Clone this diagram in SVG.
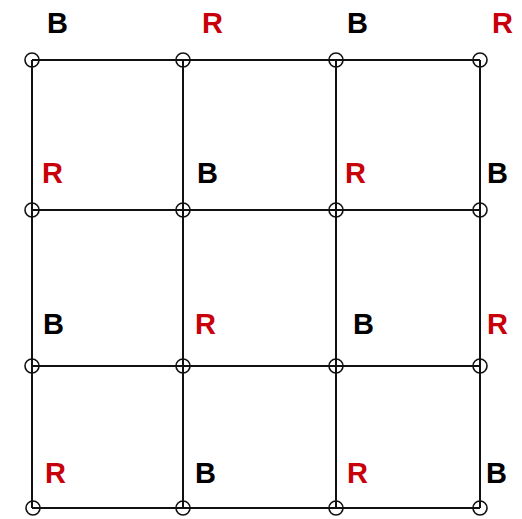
<svg xmlns="http://www.w3.org/2000/svg" width="522" height="519" viewBox="0 0 522 519">
<style>
.e{stroke:#111;stroke-width:2;fill:none}
.n{fill:none;stroke:#111;stroke-width:1.6}
.t{font-family:"Liberation Sans",Arial,sans-serif;font-weight:bold;font-size:29px}
.b{fill:#000}
.r{fill:#c8000a}
</style>
<rect width="522" height="519" fill="#fff"/>
<g id="connectors">
<line class="e" x1="32" y1="60" x2="480" y2="60"/>
<line class="e" x1="32" y1="210" x2="480" y2="210"/>
<line class="e" x1="32" y1="366" x2="480" y2="366"/>
<line class="e" x1="32" y1="508" x2="480" y2="508"/>
<line class="e" x1="32" y1="60" x2="32" y2="508"/>
<line class="e" x1="183" y1="60" x2="183" y2="508"/>
<line class="e" x1="336" y1="60" x2="336" y2="508"/>
<line class="e" x1="480" y1="60" x2="480" y2="508"/>
</g>
<g id="n00"><circle class="n" cx="32" cy="60" r="7"/><text class="t b" x="47" y="33">B</text></g>
<g id="n01"><circle class="n" cx="183" cy="60" r="7"/><text class="t r" x="202" y="33">R</text></g>
<g id="n02"><circle class="n" cx="336" cy="60" r="7"/><text class="t b" x="347" y="33">B</text></g>
<g id="n03"><circle class="n" cx="480" cy="60" r="7"/><text class="t r" x="492" y="33">R</text></g>
<g id="n10"><circle class="n" cx="32" cy="210" r="7"/><text class="t r" x="42" y="183">R</text></g>
<g id="n11"><circle class="n" cx="183" cy="210" r="7"/><text class="t b" x="197" y="183">B</text></g>
<g id="n12"><circle class="n" cx="336" cy="210" r="7"/><text class="t r" x="345" y="183">R</text></g>
<g id="n13"><circle class="n" cx="480" cy="210" r="7"/><text class="t b" x="487" y="183">B</text></g>
<g id="n20"><circle class="n" cx="32" cy="366" r="7"/><text class="t b" x="43" y="334">B</text></g>
<g id="n21"><circle class="n" cx="183" cy="366" r="7"/><text class="t r" x="195" y="334">R</text></g>
<g id="n22"><circle class="n" cx="336" cy="366" r="7"/><text class="t b" x="353" y="334">B</text></g>
<g id="n23"><circle class="n" cx="480" cy="366" r="7"/><text class="t r" x="487" y="334">R</text></g>
<g id="n30"><circle class="n" cx="33" cy="508" r="7"/><text class="t r" x="45" y="483">R</text></g>
<g id="n31"><circle class="n" cx="183" cy="508" r="7"/><text class="t b" x="195" y="483">B</text></g>
<g id="n32"><circle class="n" cx="336" cy="508" r="7"/><text class="t r" x="347" y="483">R</text></g>
<g id="n33"><circle class="n" cx="480" cy="508" r="7"/><text class="t b" x="486" y="483">B</text></g>
</svg>
